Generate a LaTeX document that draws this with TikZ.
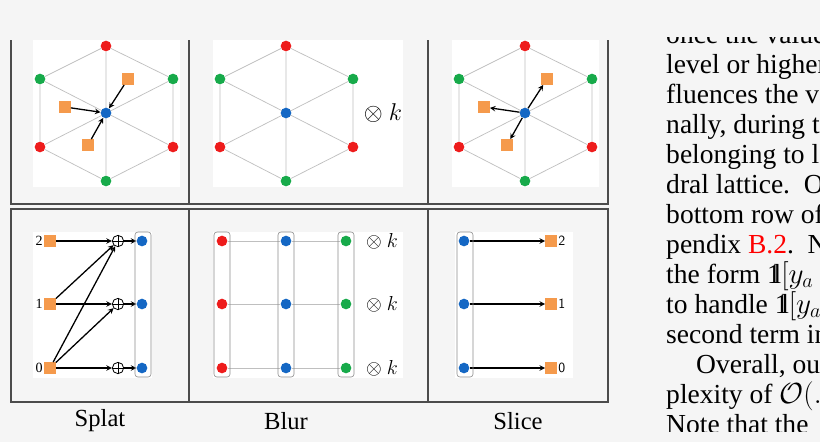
\documentclass[tikz,border=0pt]{standalone}
\usepackage{fontspec}
\usepackage{amsmath}
\setmainfont{Liberation Serif}
\usetikzlibrary{positioning}

\definecolor{latred}{HTML}{EE1C1C}
\definecolor{latgreen}{HTML}{17AA4A}
\definecolor{latblue}{HTML}{1467C4}
\definecolor{ptorange}{HTML}{F59A4C}
\definecolor{pagebg}{HTML}{F5F5F5}

\newcommand{\indic}{\mathrm{1\mkern-4.5mu l}}

\tikzset{
  dot/.style={circle, fill=#1, inner sep=0pt, minimum size=0.32cm},
  pt/.style={rectangle, fill=ptorange, inner sep=0pt, minimum size=0.34cm},
  lat/.style={draw=black!25, line width=0.6pt},
  grp/.style={draw=black!45, rounded corners=2.5pt, line width=0.5pt},
  frame/.style={draw=black!70, line width=1pt},
  arr/.style={-stealth, line width=1.1pt},
  oplus/.style={circle, draw, line width=0.7pt, inner sep=0pt, minimum size=0.34cm,
    path picture={\draw (path picture bounding box.north) -- (path picture bounding box.south)
      (path picture bounding box.west) -- (path picture bounding box.east);}},
  para/.style={anchor=base west, inner sep=0pt, font=\fontsize{23.5}{28}\selectfont}
}

% hexagonal lattice around a centre x
\newcommand{\hexlat}[2]{
  \node[dot=latred]   (#11) at (#2,46) {};
  \node[dot=latgreen] (#12) at (#2+67,79) {};
  \node[dot=latred]   (#13) at (#2+67,147) {};
  \node[dot=latgreen] (#14) at (#2,181) {};
  \node[dot=latred]   (#15) at (#2-66,147) {};
  \node[dot=latgreen] (#16) at (#2-66,79) {};
  \draw[lat] (#11) -- (#12) -- (#13) -- (#14) -- (#15) -- (#16) -- (#11);
  \draw[lat] (#11) -- (#14) (#12) -- (#15) (#13) -- (#16);
  \node[dot=latblue] (#10) at (#2,113) {};
}

\begin{document}
\begin{tikzpicture}[x=0.03cm, y=-0.03cm]
\fill[pagebg] (0,0) rectangle (820,442);

% white plot areas
\fill[white] (33,40) rectangle (180,187);
\fill[white] (213,40) rectangle (403,187);
\fill[white] (452,40) rectangle (599,187);
\fill[white] (33,232) rectangle (152,378);
\fill[white] (213,232) rectangle (403,378);
\fill[white] (455,232) rectangle (573,378);

% panel frames
\draw[frame] (11,40) -- (11,204) -- (608,204) -- (608,40);
\draw[frame] (189,40) -- (189,204) (428,40) -- (428,204);
\draw[frame] (11,209) rectangle (608,402);
\draw[frame] (189,209) -- (189,402) (428,209) -- (428,402);

% top row
\hexlat{a}{106}
\hexlat{b}{286}
\hexlat{c}{525}
\node[pt] (pa1) at (128,79) {};
\node[pt] (pa2) at (65,107) {};
\node[pt] (pa3) at (88,145) {};
\draw[arr] (pa1) -- (a0);
\draw[arr] (pa2) -- (a0);
\draw[arr] (pa3) -- (a0);
\node[font=\huge] (kb) at (383,113) {$\otimes\ k$};
\node[pt] (pc1) at (547,79) {};
\node[pt] (pc2) at (484,107) {};
\node[pt] (pc3) at (507,145) {};
\draw[arr] (c0) -- (pc1);
\draw[arr] (c0) -- (pc2);
\draw[arr] (c0) -- (pc3);

% splat
\foreach \i/\y in {2/241, 1/304, 0/368} {
  \node[pt] (s\i) at (50,\y) {};
  \node[left=0pt of s\i, inner sep=1pt, font=\large] {\i};
  \node[oplus] (o\i) at (118,\y) {};
  \node[dot=latblue] (v\i) at (142,\y) {};
  \draw[arr] (o\i) -- (v\i);
}
\draw[grp] (135,232) rectangle (151,377);
\draw[arr] (s2) -- (o2);
\draw[arr] (s1) -- (o2);
\draw[arr] (s1) -- (o1);
\draw[arr] (s0) -- (o2);
\draw[arr] (s0) -- (o1);
\draw[arr] (s0) -- (o0);

% blur
\foreach \i/\y in {2/241, 1/304, 0/368} {
  \node[dot=latred] (r\i) at (222,\y) {};
  \node[dot=latblue] (b\i) at (286,\y) {};
  \node[dot=latgreen] (g\i) at (346,\y) {};
  \draw[lat] (r\i) -- (b\i) -- (g\i);
  \node[font=\LARGE] (k\i) at (382,\y) {$\otimes\ k$};
}
\draw[grp] (214,232) rectangle (230,377);
\draw[grp] (278,232) rectangle (294,377);
\draw[grp] (338,232) rectangle (354,377);

% slice
\foreach \i/\y in {2/241, 1/304, 0/368} {
  \node[dot=latblue] (u\i) at (464,\y) {};
  \node[pt] (q\i) at (551,\y) {};
  \node[right=0pt of q\i, inner sep=1pt, font=\sffamily\large] {\i};
  \draw[arr] (u\i) -- (q\i);
}
\draw[grp] (457,232) rectangle (473,377);

% captions
\node[font=\fontsize{21}{25}\selectfont] (cap1) at (100,421) {Splat};
\node[font=\fontsize{21}{25}\selectfont] (cap2) at (286,421) {Blur};
\node[font=\fontsize{21}{25}\selectfont] (cap3) at (518,421) {Slice};

% running text of the page
\begin{scope}
\clip (640,37) rectangle (820,431);
\node[para] (t1) at (666,43) {once the value};
\node[para] (t2) at (666,73) {level or higher};
\node[para] (t3) at (666,103) {fluences the va};
\node[para] (t4) at (666,133) {nally, during t};
\node[para] (t5) at (666,163) {belonging to l};
\node[para] (t6) at (666,193) {dral lattice.\ \ O};
\node[para] (t7) at (666,223) {bottom row of};
\node[para] (t8) at (666,253) {pendix \textcolor{red}{B.2}.\ \ N};
\node[para] (t9) at (666,283) {the form $\indic[y_a$};
\node[para] (t10) at (666,313) {to handle $\indic[y_a$};
\node[para] (t11) at (666,343) {second term in};
\node[para] (t12) at (696,373) {Overall, ou};
\node[para] (t13) at (666,403) {plexity of $\mathcal{O}(.$};
\node[para] (t14) at (666,433) {Note that the};
\end{scope}
\end{tikzpicture}
\end{document}
